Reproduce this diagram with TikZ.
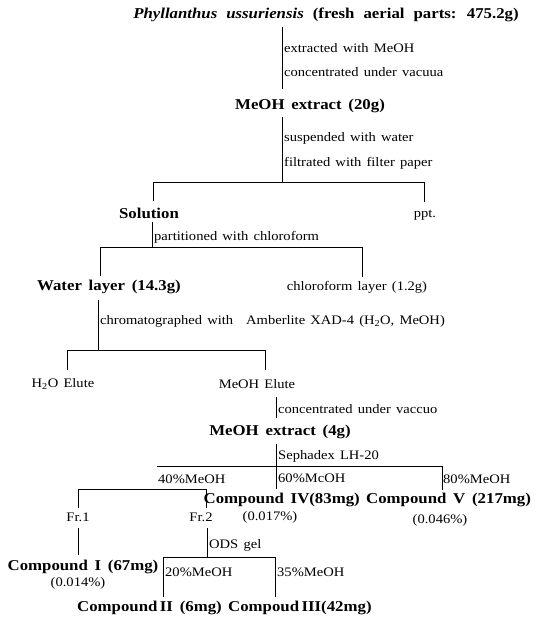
\documentclass[tikz,border=0pt]{standalone}
\usepackage{fontspec}
\setmainfont[FakeStretch=1.12]{Liberation Serif}
\usetikzlibrary{positioning}

\newcommand\wordsp[1]{\spaceskip #1em plus 0.1em\relax}

\tikzset{
  note/.style={anchor=west, inner sep=1pt, font=\fontsize{13}{15}\selectfont\wordsp{0.4}},
  prod/.style={inner sep=1pt, font=\bfseries\fontsize{15}{17}\selectfont\wordsp{0.45}},
  plain/.style={inner sep=1pt, font=\fontsize{13}{15}\selectfont\wordsp{0.4}},
  link/.style={line width=0.8pt},
}

\begin{document}
\begin{tikzpicture}[x=1pt,y=-1pt]
\useasboundingbox (0,0) rectangle (548,625);

% plant material and first extract
\node[prod] (plant) at (326,15) {\wordsp{0.6}\textit{Phyllanthus ussuriensis} (fresh aerial parts: 475.2g)};
\coordinate (a1) at (282,27);
\coordinate (a2) at (282,89);
\draw[link] (a1) -- (a2);
\node[note] (n1) at (283,48) {extracted with MeOH};
\node[note] (n2) at (283,72) {concentrated under vacuua};
\node[prod] (ext1) at (310,106) {MeOH extract (20g)};

% suspension / filtration
\coordinate (b1) at (282,117);
\coordinate (b2) at (282,182);
\draw[link] (b1) -- (b2);
\node[note] (n3) at (283,138) {suspended with water};
\node[note] (n4) at (283,163) {filtrated with filter paper};
\coordinate (bl) at (153,182);
\coordinate (br) at (424,182);
\draw[link] (bl) -- ++(0,19) (bl) -- (br) -- ++(0,20);
\node[prod] (sol) at (149,213) {Solution};
\node[plain] (ppt) at (425,215) {ppt.};

% partition
\coordinate (c1) at (152,222);
\coordinate (c2) at (152,247);
\draw[link] (c1) -- (c2);
\node[note] (n5) at (153,237) {partitioned with chloroform};
\coordinate (cl) at (100,247);
\coordinate (cr) at (362,247);
\draw[link] (cl) -- ++(0,29) (cl) -- (cr) -- ++(0,30);
\node[prod] (water) at (109,287) {Water layer (14.3g)};
\node[plain] (chl) at (357,287) {chloroform layer (1.2g)};

% Amberlite column
\coordinate (d1) at (98,300);
\coordinate (d2) at (98,350);
\draw[link] (d1) -- (d2);
\node[note] (n6) at (99,321) {chromatographed with\quad Amberlite XAD-4 (H\textsubscript{2}O, MeOH)};
\coordinate (dl) at (67,350);
\coordinate (dr) at (265,350);
\draw[link] (dl) -- ++(0,20) (dl) -- (dr) -- ++(0,20);
\node[plain] (h2o) at (63,384) {H\textsubscript{2}O Elute};
\node[plain] (meoh) at (257,384) {MeOH Elute};

% MeOH elute
\coordinate (e1) at (276,397);
\coordinate (e2) at (276,418);
\draw[link] (e1) -- (e2);
\node[note] (n7) at (277,409) {concentrated under vaccuo};
\node[prod] (ext2) at (280,432) {MeOH extract (4g)};

% Sephadex
\coordinate (f1) at (276,444);
\coordinate (f2) at (276,489);
\draw[link] (f1) -- (f2);
\node[note] (n8) at (277,456) {Sephadex LH-20};
\coordinate (fl) at (157,466);
\coordinate (fr) at (442,466);
\draw[link] (fl) -- (fr) -- ++(0,24);
\node[note] (n9) at (157,479) {40\%MeOH};
\node[note] (n10) at (277,478) {60\%McOH};
\node[note] (n11) at (442,479) {80\%MeOH};
\coordinate (gl) at (78,489);
\coordinate (gr) at (206,489);
\draw[link] (gl) -- ++(0,19) (gl) -- (gr) -- ++(0,19);
\node[prod, anchor=east] (cpd4) at (361,500) {Compound IV(83mg)};
\node[prod, anchor=west] (cpd5) at (365,500) {Compound V (217mg)};
\node[plain] (p4) at (270,517) {(0.017\%)};
\node[plain] (p5) at (440,520) {(0.046\%)};
\node[plain] (fr1) at (78,517) {Fr.1};
\node[plain] (fr2) at (201,517) {Fr.2};

% fractions
\coordinate (h1) at (78,528);
\coordinate (h2) at (78,555);
\draw[link] (h1) -- (h2);
\node[prod] (cpd1) at (83,567) {Compound I (67mg)};
\node[plain] (p1) at (78,583) {(0.014\%)};
\coordinate (k1) at (207,528);
\coordinate (k2) at (207,557);
\draw[link] (k1) -- (k2);
\node[note] (n12) at (208,545) {ODS gel};
\coordinate (kl) at (163,557);
\coordinate (kr) at (275,557);
\draw[link] (kl) -- ++(0,40) (kl) -- (kr) -- ++(0,40);
\node[note] (n13) at (164,572) {20\%MeOH};
\node[note] (n14) at (276,572) {35\%MeOH};
\node[prod, anchor=east] (cpd2) at (223,608) {Compound\,II (6mg)};
\node[prod, anchor=west] (cpd3) at (227,608) {Compoud\,III(42mg)};
\end{tikzpicture}
\end{document}
